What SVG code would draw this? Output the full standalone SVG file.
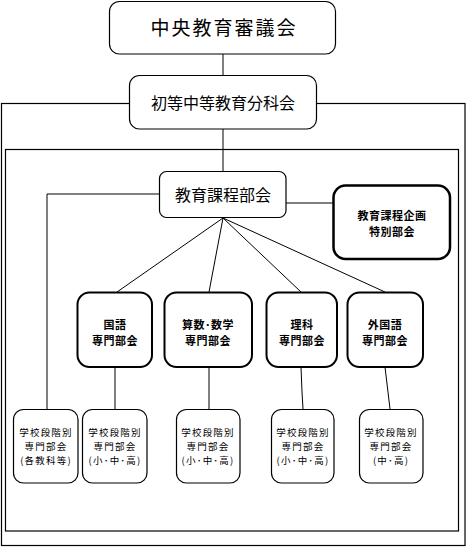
<svg xmlns="http://www.w3.org/2000/svg" width="467" height="547" viewBox="0 0 467 547">
<style>
text{font-family:"Noto Sans CJK JP","Noto Sans CJK SC",sans-serif;fill:#000;text-anchor:middle}
.box{fill:#fff;stroke:#000;stroke-width:1.2}
.sub{fill:#fff;stroke:#000;stroke-width:2}
.thick{fill:#fff;stroke:#000;stroke-width:2.5}
.ln{stroke:#000;stroke-width:1;fill:none}
.t1{font-size:19px;letter-spacing:2px}
.t2{font-size:16px}
.t3{font-size:11px;font-weight:bold;letter-spacing:0.5px}
.t4{font-size:9.5px;letter-spacing:1.2px}
</style>
<rect width="467" height="547" fill="#fff"/>
<g id="frames">
<rect x="1.5" y="103.5" width="463.5" height="442" fill="none" stroke="#000" stroke-width="1.2"/>
<rect x="5.5" y="149.5" width="453" height="381.5" fill="none" stroke="#000" stroke-width="1.2"/>
</g>
<g id="connectors">
<line class="ln" x1="223" y1="54" x2="223" y2="75"/>
<line class="ln" x1="223" y1="129" x2="223" y2="171"/>
<polyline class="ln" points="159,194 47,194 47,409"/>
<line class="ln" x1="286" y1="203" x2="333" y2="203"/>
<line class="ln" x1="223" y1="218" x2="117" y2="292"/>
<line class="ln" x1="223" y1="218" x2="209" y2="292"/>
<line class="ln" x1="223" y1="218" x2="301" y2="292"/>
<line class="ln" x1="223" y1="218" x2="385" y2="292"/>
<line class="ln" x1="115" y1="367" x2="115" y2="409"/>
<line class="ln" x1="209" y1="367" x2="209" y2="409"/>
<polyline class="ln" points="301,367 302,392 303,409"/>
<line class="ln" x1="385" y1="367" x2="390" y2="409"/>
</g>
<g id="chuo">
<rect class="box" x="109.5" y="1.5" width="226" height="52.5" rx="10"/>
<text class="t1" x="224" y="35">中央教育審議会</text>
</g>
<g id="bunkakai">
<rect class="box" x="129.5" y="75.5" width="187" height="53.5" rx="10"/>
<text class="t2" x="223" y="109">初等中等教育分科会</text>
</g>
<g id="kyoikukatei">
<rect class="box" x="159.5" y="171.5" width="126.5" height="46" rx="7"/>
<text class="t2" x="223" y="201">教育課程部会</text>
</g>
<g id="kikaku">
<rect class="thick" x="333.5" y="185.5" width="116.5" height="73.5" rx="12"/>
<text class="t3" x="392" y="220">教育課程企画</text>
<text class="t3" x="392" y="236">特別部会</text>
</g>
<g id="kokugo">
<rect class="sub" x="77.5" y="292.5" width="74.5" height="74.5" rx="12"/>
<text class="t3" x="115" y="329">国語</text>
<text class="t3" x="115" y="345">専門部会</text>
</g>
<g id="sansu">
<rect class="sub" x="164.5" y="292.5" width="87.5" height="74.5" rx="12"/>
<text class="t3" x="208" y="329">算数･数学</text>
<text class="t3" x="208" y="345">専門部会</text>
</g>
<g id="rika">
<rect class="sub" x="266.5" y="292.5" width="70.5" height="74.5" rx="12"/>
<text class="t3" x="302" y="329">理科</text>
<text class="t3" x="302" y="345">専門部会</text>
</g>
<g id="gaikokugo">
<rect class="sub" x="347.5" y="292.5" width="75.5" height="74.5" rx="12"/>
<text class="t3" x="385" y="329">外国語</text>
<text class="t3" x="385" y="345">専門部会</text>
</g>
<g id="s1">
<rect class="box" x="13.5" y="409.5" width="64.5" height="73.5" rx="10"/>
<text class="t4" x="46" y="436">学校段階別</text>
<text class="t4" x="46" y="450">専門部会</text>
<text class="t4" x="46" y="464">(各教科等)</text>
</g>
<g id="s2">
<rect class="box" x="82.5" y="409.5" width="64.5" height="73.5" rx="10"/>
<text class="t4" x="115" y="436">学校段階別</text>
<text class="t4" x="115" y="450">専門部会</text>
<text class="t4" x="115" y="464">(小･中･高)</text>
</g>
<g id="s3">
<rect class="box" x="176.5" y="409.5" width="63.5" height="73.5" rx="10"/>
<text class="t4" x="208" y="436">学校段階別</text>
<text class="t4" x="208" y="450">専門部会</text>
<text class="t4" x="208" y="464">(小･中･高)</text>
</g>
<g id="s4">
<rect class="box" x="271.5" y="409.5" width="62.5" height="73.5" rx="10"/>
<text class="t4" x="303" y="436">学校段階別</text>
<text class="t4" x="303" y="450">専門部会</text>
<text class="t4" x="303" y="464">(小･中･高)</text>
</g>
<g id="s5">
<rect class="box" x="359.5" y="409.5" width="63.5" height="73.5" rx="10"/>
<text class="t4" x="391" y="436">学校段階別</text>
<text class="t4" x="391" y="450">専門部会</text>
<text class="t4" x="391" y="464">(中･高)</text>
</g>
</svg>
